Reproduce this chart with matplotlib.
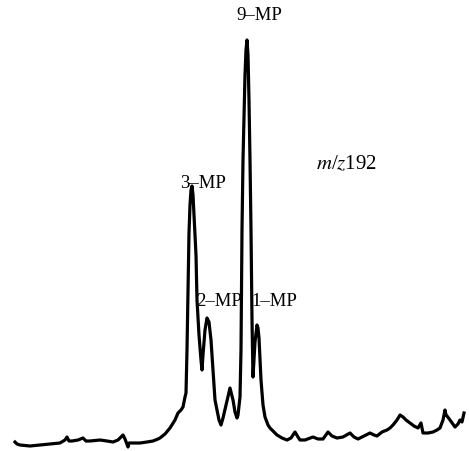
import matplotlib
matplotlib.use("Agg")
import matplotlib.pyplot as plt

# m/z 192 extracted ion chromatogram
# scan: retention position (arbitrary units), y_px: trace height read as pixel rows
scan = [15, 17, 20, 30, 40, 50, 60, 65, 67, 69, 72, 78, 83, 86, 90, 100, 107, 113,
        118, 121, 123, 125, 128, 129, 135, 140, 147, 153, 158, 160, 165, 170, 175,
        178, 181, 183, 185, 186, 187, 188, 189, 190, 191, 192, 193, 194, 195, 196,
        197, 199, 201, 202, 203, 205, 207, 209, 211, 213, 215, 217, 219, 221, 223,
        226, 230, 233, 235, 237, 238, 240, 241, 242, 243, 244, 245, 246, 247, 248,
        249, 250, 251, 252, 253, 254, 255, 257, 258, 259, 260, 261, 263, 265, 268,
        270, 274, 277, 282, 287, 291, 295, 298, 300, 305, 313, 318, 323, 328, 332,
        337, 343, 350, 354, 358, 364, 370, 374, 377, 382, 387, 390, 393, 397, 400,
        403, 406, 410, 414, 418, 421, 423, 428, 433, 437, 440, 443, 445, 446, 447,
        450, 455, 458, 460, 462, 464]
y_px = [442, 444, 445, 446, 445, 444, 443, 440, 437, 441, 441, 440, 438, 441, 441,
        440, 441, 442, 440, 437, 435, 439, 447, 443, 443, 443, 442, 441, 439, 438,
        434, 428, 420, 413, 410, 407, 397, 393, 350, 290, 233, 205, 190, 186, 195,
        215, 233, 255, 300, 335, 360, 370, 355, 330, 318, 322, 340, 370, 400, 410,
        420, 425, 418, 405, 388, 400, 412, 418, 415, 397, 350, 230, 160, 115, 75,
        50, 40, 55, 100, 160, 230, 320, 377, 360, 342, 325, 328, 338, 360, 380, 405,
        417, 425, 428, 432, 435, 438, 440, 438, 432, 437, 440, 440, 437, 439, 439,
        432, 436, 438, 437, 433, 437, 439, 436, 433, 435, 436, 432, 430, 428, 425,
        420, 415, 417, 420, 423, 426, 428, 423, 433, 433, 432, 430, 428, 420, 410,
        415, 416, 420, 427, 424, 420, 422, 413]
# relative abundance, 9-MP peak = 100
abundance = [(440 - v) / 4.0 for v in y_px]

labels = ["9\u2013MP", "3\u2013MP", "2\u2013MP", "1\u2013MP"]
label_x = [259, 203, 219, 274]
label_y = [(440 - 16) / 4.0, (440 - 184) / 4.0, (440 - 301) / 4.0, (440 - 301) / 4.0]

plt.rcParams["font.family"] = ["Liberation Serif", "DejaVu Serif"]
plt.rcParams["mathtext.fontset"] = "stix"

fig = plt.figure(figsize=(4.69, 4.51), dpi=100)
ax = fig.add_axes([0, 0, 1, 1])
ax.plot(scan, abundance, color="black", lw=2.3, solid_joinstyle="round")

for t, x, y in zip(labels, label_x, label_y):
    ax.text(x, y, t, fontsize=13.5, ha="center", va="center")
ax.text(347, (440 - 165) / 4.0, r"$m$/$z$192", fontsize=15, ha="center", va="center")

ax.set_xlim(0, 469)
ax.set_ylim((440 - 451) / 4.0, 440 / 4.0)
ax.axis("off")

fig.savefig("out.png", dpi=100)
